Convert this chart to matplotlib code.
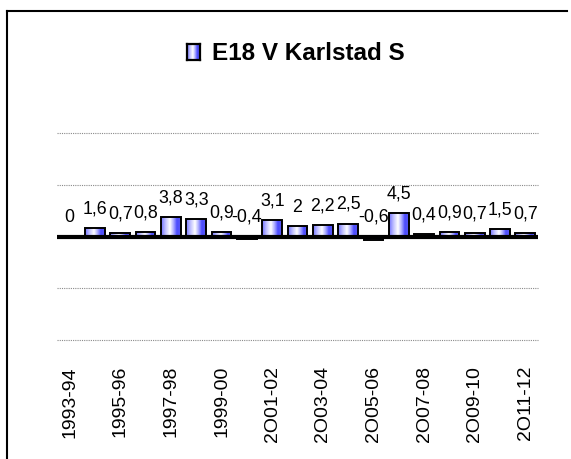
import numpy as np
import matplotlib
matplotlib.use('Agg')
import matplotlib.pyplot as plt
from matplotlib.lines import Line2D
from matplotlib.colors import LinearSegmentedColormap

plt.rcParams['font.family'] = ['Liberation Sans', 'DejaVu Sans']

# data
seasons = ['1993-94', '1994-95', '1995-96', '1996-97', '1997-98', '1998-99',
           '1999-00', '2000-01', '2O01-02', '2O02-03', '2O03-04', '2O04-05',
           '2O05-06', '2O06-07', '2O07-08', '2O08-09', '2O09-10', '2O10-11',
           '2O11-12']
values = [0, 1.6, 0.7, 0.8, 3.8, 3.3, 0.9, -0.4, 3.1, 2, 2.2, 2.5,
          -0.6, 4.5, 0.4, 0.9, 0.7, 1.5, 0.7]
series_name = 'E18 V Karlstad S'
grid_levels = [-20, -10, 10, 20]

W, H = 571, 460
fig = plt.figure(figsize=(W / 100, H / 100), dpi=100)

# bar gradient (blue - white - blue, horizontal)
cmap = LinearSegmentedColormap.from_list('bargrad', [
    (0.0, (0.45, 0.45, 1.0)),
    (0.22, (0.75, 0.75, 1.0)),
    (0.45, (1.0, 1.0, 1.0)),
    (0.62, (0.7, 0.7, 1.0)),
    (0.8, (0.3, 0.3, 1.0)),
    (1.0, (0.35, 0.35, 0.95))])
grad = np.linspace(0, 1, 64).reshape(1, -1)

ax = fig.add_axes([57 / W, 1 - 341 / H, 481 / W, 207 / H])
x = np.arange(len(values))
bars = ax.bar(x, values, width=0.78, facecolor='none', edgecolor='black',
              linewidth=1.4, zorder=3)
for b in bars:
    x0, y0 = b.get_x(), b.get_y()
    w, h = b.get_width(), b.get_height()
    im = ax.imshow(grad, cmap=cmap, extent=[x0, x0 + w, y0, y0 + h],
                   aspect='auto', zorder=2)
    im.set_clip_path(b)

for lv in grid_levels:
    ax.axhline(lv, color='#8a8a8a', lw=0.8, ls=(0, (1, 1)), zorder=1,
               clip_on=False)
ax.axhline(0, color='black', lw=3, zorder=4)

for xi, v in zip(x, values):
    ax.annotate(f'{v:g}'.replace('.', ','), (xi, max(v, 0)),
                xytext=(0, 14.5), textcoords='offset points',
                ha='center', va='center', fontsize=12.8)

ax.set_xlim(-0.5, len(values) - 0.5)
ax.set_ylim(-20, 20)
ax.set_yticks([])
ax.set_xticks(x[::2])
ax.set_xticklabels(seasons[::2], rotation=90, fontsize=14, va='top')
ax.tick_params(axis='x', length=0, pad=18)
for s in ax.spines.values():
    s.set_visible(False)

# legend-like title
lax = fig.add_axes([187 / W, 1 - 61 / H, 13 / W, 16 / H])
lax.imshow(grad, cmap=cmap, aspect='auto')
lax.set_xticks([])
lax.set_yticks([])
for s in lax.spines.values():
    s.set_linewidth(1.6)
fig.text(212 / W, 1 - 60 / H, series_name, fontsize=17.5, fontweight='bold',
         ha='left', va='baseline')

# outer frame (top and left visible)
fig.add_artist(Line2D([7 / W, 567 / W], [1 - 12 / H, 1 - 12 / H],
                      transform=fig.transFigure, color='black', lw=1.5))
fig.add_artist(Line2D([7 / W, 7 / W], [1 - 12 / H, 0],
                      transform=fig.transFigure, color='black', lw=1.5))

fig.savefig('out.png', dpi=100)
